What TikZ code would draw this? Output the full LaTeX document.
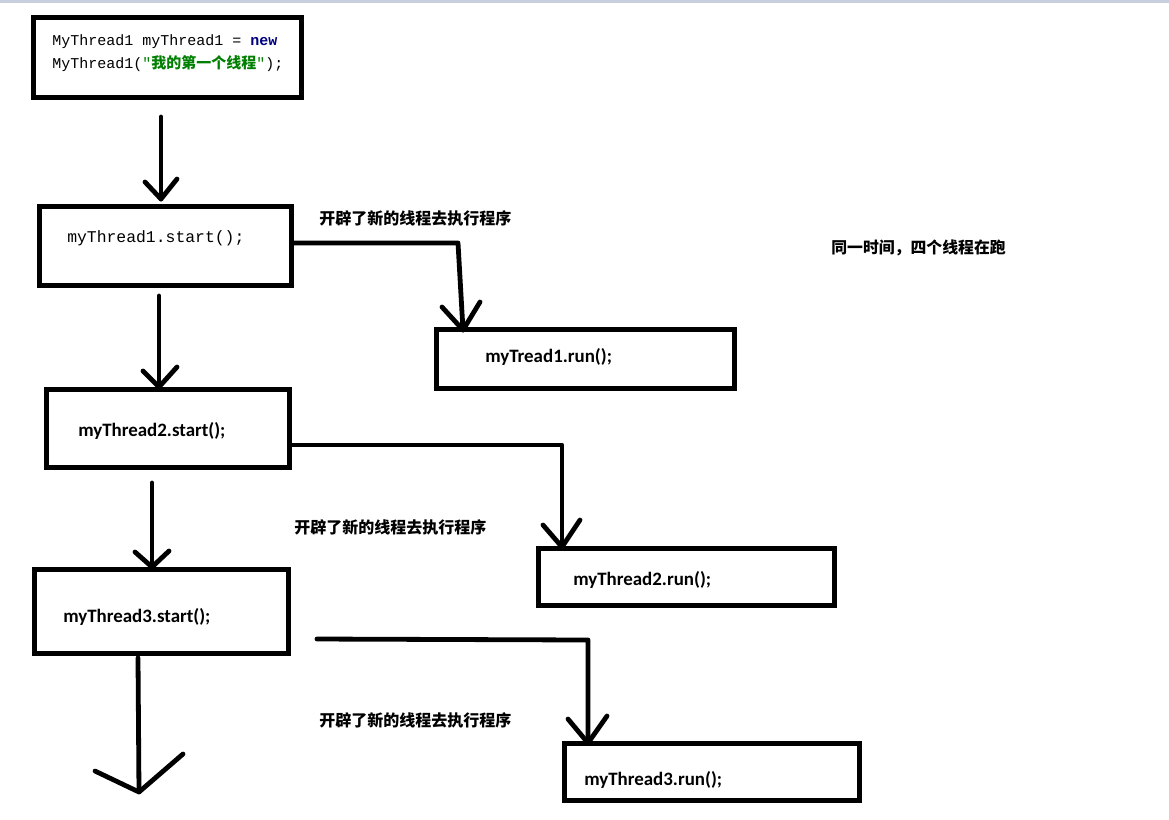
\documentclass[tikz,border=0pt]{standalone}
\usepackage{fontspec}
\setmainfont{Carlito}
\setmonofont{Liberation Mono}
\newfontfamily\cjk{Noto Sans CJK SC}
\usetikzlibrary{calc}
\definecolor{topbar}{RGB}{200,208,224}
\definecolor{kwnavy}{RGB}{0,0,128}
\definecolor{strgreen}{RGB}{0,128,0}
\tikzset{
  box/.style={draw=black, line width=3.75pt, rectangle, inner sep=0pt},
  wire/.style={draw=black, line width=3.6pt, line cap=round, line join=round},
  codetxt/.style={anchor=west, inner sep=0pt, font=\ttfamily\fontsize{11.25}{13}\selectfont},
  calltxt/.style={anchor=west, inner sep=0pt, font=\bfseries\fontsize{14.2}{16}\selectfont},
  cnlabel/.style={anchor=west, inner sep=0pt, font=\cjk\bfseries\fontsize{12}{14}\selectfont}
}
\begin{document}
\begin{tikzpicture}[x=0.75pt,y=-0.75pt]
\useasboundingbox (0,0) rectangle (1169,819);
\fill[white] (0,0) rectangle (1169,819);
\fill[topbar] (0,0) rectangle (1169,3);

% boxes
\node[box, minimum width=201pt, minimum height=60pt] (b1) at (167.5,57.5) {};
\node[box, minimum width=189pt, minimum height=59.25pt] (b2) at (165.5,246) {};
\node[box, minimum width=182.25pt, minimum height=58.5pt] (b3) at (168,428.5) {};
\node[box, minimum width=190.5pt, minimum height=63pt] (b4) at (161.5,611.5) {};
\node[box, minimum width=223.5pt, minimum height=44.25pt] (r1) at (585.5,359) {};
\node[box, minimum width=222pt, minimum height=42.75pt] (r2) at (686.5,577) {};
\node[box, minimum width=221.25pt, minimum height=42.75pt] (r3) at (712,772) {};

% texts
\node[codetxt] (t1a) at (52,42) {MyThread1 myThread1 = \textcolor{kwnavy}{\bfseries new}};
\node[codetxt] (t1b) at (52,64) {MyThread1(\textcolor{strgreen}{"{\cjk\bfseries 我的第一个线程}"});};
\node[codetxt, font=\ttfamily\fontsize{12.3}{14}\selectfont] (t2) at (67,238) {myThread1.start();};
\node[calltxt] (t3) at (78,431) {myThread2.start();};
\node[calltxt] (t4) at (63,617) {myThread3.start();};
\node[calltxt] (tr1) at (485,357) {myTread1.run();};
\node[calltxt] (tr2) at (573,580) {myThread2.run();};
\node[calltxt] (tr3) at (584,780) {myThread3.run();};

\node[cnlabel] (l1) at (319,218) {开辟了新的线程去执行程序};
\node[cnlabel] (l2) at (294,527) {开辟了新的线程去执行程序};
\node[cnlabel] (l3) at (319,720) {开辟了新的线程去执行程序};
\node[cnlabel, font=\cjk\bfseries\fontsize{11.9}{14}\selectfont] (note) at (831,248) {同一时间，四个线程在跑};

% vertical arrows
\coordinate (a1s) at (161,117);
\coordinate (a1e) at (161,199);
\draw[wire] (a1s) -- (a1e);
\draw[wire] ($(a1e)+(-16,-17)$) -- (a1e) -- ($(a1e)+(16,-20)$);

\coordinate (a2s) at (159,296);
\coordinate (a2e) at (159,387);
\draw[wire] (a2s) -- (a2e);
\draw[wire] ($(a2e)+(-16,-16)$) -- (a2e) -- ($(a2e)+(18,-20)$);

\coordinate (a3s) at (152,483);
\coordinate (a3e) at (152,567);
\draw[wire] (a3s) -- (a3e);
\draw[wire] ($(a3e)+(-17,-15)$) -- (a3e) -- ($(a3e)+(17,-16)$);

\coordinate (a4s) at (138,658);
\coordinate (a4e) at (139,792);
\draw[wire] (a4s) -- (a4e);
\draw[wire] (95,771) -- (a4e) -- (183,754);

% branch connectors
\coordinate (c1k) at (458,243);
\coordinate (c1e) at (463,330);
\draw[wire] (b2.east |- c1k) -- (c1k) -- (c1e);
\draw[wire] ($(c1e)+(-21,-23)$) -- (c1e) -- ($(c1e)+(17,-28)$);

\coordinate (c2k) at (562,445);
\coordinate (c2e) at (562,547);
\draw[wire] (b3.east |- c2k) -- (c2k) -- (c2e);
\draw[wire] ($(c2e)+(-19,-22)$) -- (c2e) -- ($(c2e)+(18,-27)$);

\coordinate (c3s) at (317,639);
\coordinate (c3k) at (588,640);
\coordinate (c3e) at (588,743);
\draw[wire] (c3s) -- (c3k) -- (c3e);
\draw[wire] ($(c3e)+(-20,-24)$) -- (c3e) -- ($(c3e)+(19,-27)$);
\end{tikzpicture}
\end{document}
